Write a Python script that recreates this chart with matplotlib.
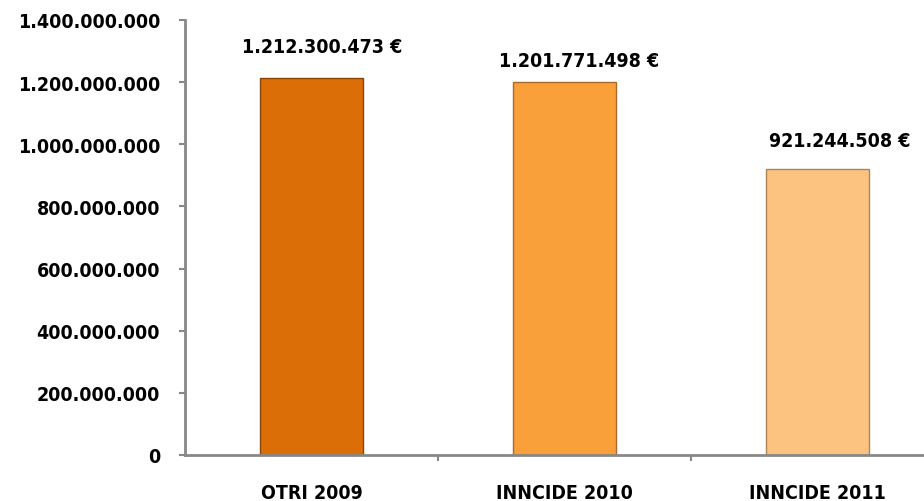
import matplotlib
matplotlib.use("Agg")
import matplotlib.pyplot as plt
from matplotlib.ticker import FixedLocator

categories = ["OTRI 2009", "INNCIDE 2010", "INNCIDE 2011"]
values = [1212300473, 1201771498, 921244508]
value_labels = ["1.212.300.473 €", "1.201.771.498 €", "921.244.508 €"]
y_ticks = [0, 200000000, 400000000, 600000000, 800000000, 1000000000, 1200000000, 1400000000]
y_tick_labels = ["0", "200.000.000", "400.000.000", "600.000.000", "800.000.000",
                 "1.000.000.000", "1.200.000.000", "1.400.000.000"]

colors = ["#DB6E07", "#FAA03B", "#FCC27F"]
edge_colors = ["#8A4505", "#A8692A", "#B08452"]
label_offsets_px = [(11, 32), (15, 21), (22, 28)]

W, H = 924, 502
fig = plt.figure(figsize=(W / 100, H / 100), dpi=100)
left, right, top, bottom = 185, 944, 21, 456
ax = fig.add_axes([left / W, (H - bottom) / H, (right - left) / W, (bottom - top) / H])

x = list(range(len(categories)))
bars = ax.bar(x, values, width=0.41, color=colors, edgecolor=edge_colors, linewidth=1.0, zorder=2)

ax.set_xlim(-0.5, len(categories) - 0.5)
ax.set_ylim(0, 1400000000)

font = dict(family="DejaVu Sans", stretch="condensed", weight="heavy", size=14, color="black")

ax.set_yticks(y_ticks)
ax.set_yticklabels(y_tick_labels, **font)
ax.set_xticks(x)
ax.set_xticklabels(categories, **font)
ax.tick_params(axis="x", length=0, pad=20)
ax.tick_params(axis="y", length=4.5, width=1.5, color="#888888", pad=13.5)
ax.xaxis.set_minor_locator(FixedLocator([0.5, 1.5]))
ax.tick_params(axis="x", which="minor", length=4, width=1.5, color="#888888", direction="out")

for s in ["top", "right"]:
    ax.spines[s].set_visible(False)
for s in ["left", "bottom"]:
    ax.spines[s].set_color("#888888")
    ax.spines[s].set_linewidth(2)
ax.spines["bottom"].set_zorder(3)

for b, lab, (dx, dy) in zip(bars, value_labels, label_offsets_px):
    ax.annotate(lab, xy=(b.get_x() + b.get_width() / 2, b.get_height()),
                xytext=(dx * 0.72, dy * 0.72), textcoords="offset points",
                ha="center", va="center", **font)

fig.savefig("out.png", dpi=100)
